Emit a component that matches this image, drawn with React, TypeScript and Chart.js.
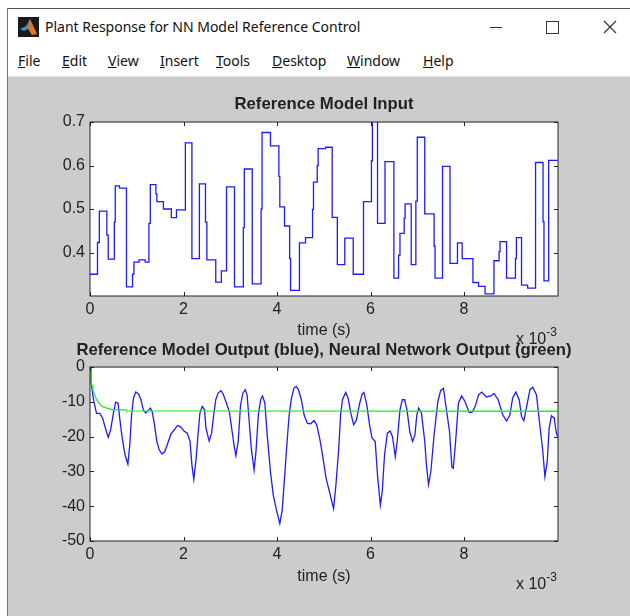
import React, { useEffect, useRef } from "react";
import { Chart, registerables } from "chart.js";

Chart.register(...registerables);

const windowTitle = "Plant Response for NN Model Reference Control";
const menuItems = ["File", "Edit", "View", "Insert", "Tools", "Desktop", "Window", "Help"];
const menuLefts = [18, 62, 108, 160, 216, 272, 347, 423];

const topTitle = "Reference Model Input";
const bottomTitle = "Reference Model Output (blue), Neural Network Output (green)";
const xAxisLabel = "time (s)";
const xTicks = [0, 2, 4, 6, 8];
const topYTicks = [0.4, 0.5, 0.6, 0.7];
const bottomYTicks = [0, -10, -20, -30, -40, -50];

const inputTimes = [
  0, 0.16, 0.2, 0.36, 0.39, 0.52, 0.54, 0.63, 0.78, 0.91, 0.94, 1.05, 1.18, 1.26, 1.29, 1.41, 1.43, 1.57, 1.74, 1.85,
  2.04, 2.18, 2.34, 2.47, 2.5, 2.69, 2.81, 2.92, 3.09, 3.28, 3.3, 3.47, 3.66, 3.68, 3.86, 4.04, 4.06, 4.16, 4.27, 4.29,
  4.48, 4.61, 4.76, 4.78, 4.86, 4.88, 5.04, 5.18, 5.29, 5.45, 5.63, 5.85, 6.02, 6.04, 6.15, 6.31, 6.5, 6.6, 6.63, 6.72,
  6.74, 6.87, 6.97, 7.0, 7.16, 7.36, 7.38, 7.54, 7.7, 7.86, 7.96, 8.19, 8.31, 8.45, 8.64, 8.75, 8.77, 8.91, 9.1, 9.12,
  9.23, 9.36, 9.53, 9.69, 9.71, 9.81, 10.0,
];
const inputValues = [
  0.35, 0.423, 0.495, 0.44, 0.385, 0.47, 0.553, 0.548, 0.321, 0.35, 0.378, 0.383, 0.378, 0.467, 0.556, 0.535, 0.517, 0.5, 0.48, 0.498,
  0.652, 0.386, 0.558, 0.47, 0.383, 0.332, 0.358, 0.551, 0.321, 0.457, 0.592, 0.328, 0.5, 0.676, 0.645, 0.575, 0.505, 0.461, 0.386, 0.313,
  0.422, 0.434, 0.499, 0.562, 0.6, 0.639, 0.642, 0.481, 0.372, 0.433, 0.35, 0.517, 0.611, 0.71, 0.467, 0.609, 0.341, 0.394, 0.444, 0.479,
  0.512, 0.372, 0.518, 0.665, 0.489, 0.415, 0.341, 0.598, 0.375, 0.422, 0.386, 0.331, 0.322, 0.305, 0.381, 0.402, 0.425, 0.341, 0.386, 0.434,
  0.325, 0.318, 0.607, 0.471, 0.335, 0.612, 0.612,
];

const outputTimes = [
  0, 0.02, 0.06, 0.09, 0.14, 0.21, 0.27, 0.33, 0.39, 0.44, 0.5, 0.55, 0.6, 0.64, 0.69, 0.75, 0.81, 0.85, 0.89, 0.93,
  0.98, 1.04, 1.09, 1.14, 1.19, 1.24, 1.29, 1.33, 1.38, 1.43, 1.48, 1.54, 1.6, 1.65, 1.73, 1.8, 1.87, 1.94, 2.01, 2.08,
  2.14, 2.18, 2.22, 2.27, 2.31, 2.35, 2.4, 2.45, 2.48, 2.55, 2.6, 2.65, 2.69, 2.74, 2.8, 2.85, 2.92, 2.98, 3.03, 3.08,
  3.12, 3.17, 3.22, 3.27, 3.32, 3.36, 3.4, 3.45, 3.51, 3.55, 3.6, 3.65, 3.69, 3.74, 3.79, 3.86, 3.92, 3.99, 4.06, 4.11,
  4.16, 4.21, 4.26, 4.31, 4.36, 4.41, 4.46, 4.52, 4.58, 4.65, 4.72, 4.79, 4.85, 4.92, 4.98, 5.05, 5.13, 5.21, 5.26, 5.32,
  5.36, 5.4, 5.47, 5.52, 5.58, 5.64, 5.7, 5.76, 5.82, 5.86, 5.92, 5.98, 6.03, 6.1, 6.15, 6.21, 6.25, 6.3, 6.36, 6.42,
  6.47, 6.53, 6.57, 6.63, 6.68, 6.73, 6.78, 6.84, 6.9, 6.95, 6.99, 7.03, 7.09, 7.16, 7.2, 7.24, 7.29, 7.36, 7.44, 7.5,
  7.56, 7.61, 7.69, 7.74, 7.77, 7.82, 7.88, 7.95, 8.02, 8.11, 8.17, 8.24, 8.31, 8.38, 8.48, 8.57, 8.64, 8.73, 8.83, 8.91,
  8.98, 9.04, 9.11, 9.18, 9.23, 9.28, 9.34, 9.41, 9.47, 9.55, 9.62, 9.68, 9.73, 9.78, 9.82, 9.87, 9.93, 9.97, 10.0,
];
const outputValues = [
  0, -4.1, -8.0, -10.4, -13.3, -13.3, -14.7, -17.6, -20.2, -18.1, -13.3, -10.1, -10.4, -15.2, -20.5, -25.3, -27.9, -22.4, -13.8, -8.9,
  -7.2, -7.8, -9.4, -12.3, -13.2, -12.6, -11.8, -12.8, -16.6, -21.4, -23.8, -25.0, -24.3, -22.4, -19.3, -18.1, -16.8, -17.2, -18.4, -19.0,
  -21.4, -28.2, -32.3, -26.3, -19.5, -13.3, -11.3, -12.3, -17.6, -21.3, -19.0, -13.3, -9.4, -7.5, -6.8, -7.8, -10.4, -12.8, -17.6, -22.4,
  -25.5, -21.4, -10.9, -7.5, -6.5, -8.0, -14.7, -23.4, -29.6, -24.3, -13.8, -9.4, -8.3, -10.4, -19.5, -30.1, -36.8, -41.2, -45.0, -41.2,
  -32.0, -22.4, -13.8, -8.9, -6.1, -5.6, -6.5, -9.4, -13.8, -16.2, -16.3, -15.4, -16.6, -21.0, -25.8, -32.0, -36.3, -40.7, -33.9, -23.4,
  -13.8, -9.4, -7.3, -8.9, -13.3, -16.6, -15.2, -10.9, -7.8, -7.3, -10.9, -16.6, -20.3, -21.4, -31.1, -39.7, -35.9, -25.3, -19.0, -18.4,
  -20.0, -25.8, -21.4, -12.3, -9.4, -9.4, -12.3, -18.6, -21.4, -19.5, -13.8, -11.8, -13.3, -21.4, -28.7, -33.8, -30.1, -19.5, -9.9, -6.8,
  -6.1, -10.9, -18.6, -28.7, -29.1, -21.4, -10.4, -8.3, -9.9, -13.0, -13.0, -11.3, -8.0, -7.2, -8.6, -8.3, -7.6, -9.4, -13.8, -15.5,
  -13.8, -8.9, -7.2, -9.4, -14.2, -15.4, -11.3, -6.5, -5.8, -8.0, -16.6, -23.4, -31.5, -27.2, -17.6, -14.0, -14.7, -18.6, -20.0,
];

const nnTimes = [0, 0.01, 0.07, 0.14, 0.25, 0.36, 0.46, 0.77, 0.78, 10.0];
const nnValues = [-1, -3, -7, -9.4, -11.3, -11.8, -12.2, -12.3, -12.6, -12.7];

const INK = "#222222";
const BLUE = "#1c1cff";
const GREEN = "#22f022";
const SANS = "'Liberation Sans', Arial, sans-serif";
const UI = "'Noto Sans', sans-serif";

const pairs = (xs: number[], ys: number[]) => xs.map((x, i) => ({ x, y: ys[i] }));

const matlabFrame = {
  id: "matlabFrame",
  beforeDraw(chart: any) {
    const { ctx, chartArea: a } = chart;
    ctx.save();
    ctx.fillStyle = "#ffffff";
    ctx.fillRect(a.left, a.top, a.right - a.left, a.bottom - a.top);
    ctx.restore();
  },
  afterDraw(chart: any) {
    const { ctx, chartArea: a, scales } = chart;
    ctx.save();
    ctx.strokeStyle = INK;
    ctx.lineWidth = 1;
    ctx.strokeRect(a.left, a.top, a.right - a.left, a.bottom - a.top);
    ctx.beginPath();
    scales.x.ticks.forEach((_: any, i: number) => {
      const p = Math.round(scales.x.getPixelForTick(i)) + 0.5;
      ctx.moveTo(p, a.bottom);
      ctx.lineTo(p, a.bottom - 4);
      ctx.moveTo(p, a.top);
      ctx.lineTo(p, a.top + 4);
    });
    scales.y.ticks.forEach((_: any, i: number) => {
      const p = Math.round(scales.y.getPixelForTick(i)) + 0.5;
      ctx.moveTo(a.left, p);
      ctx.lineTo(a.left + 4, p);
      ctx.moveTo(a.right, p);
      ctx.lineTo(a.right - 4, p);
    });
    ctx.stroke();
    ctx.restore();
  },
};

function makeOptions(title: string, yMin: number, yMax: number, yTicks: number[], titleGap: number, xHeight: number, xTitleGap: number): any {
  return {
    responsive: false,
    animation: false,
    layout: { padding: 0 },
    plugins: {
      legend: { display: false },
      tooltip: { enabled: false },
      title: {
        display: true,
        text: title,
        color: INK,
        font: { family: SANS, size: 16.7, weight: "bold", lineHeight: 1.2 },
        padding: { top: 1, bottom: titleGap },
      },
    },
    elements: { point: { radius: 0 } },
    scales: {
      x: {
        type: "linear",
        min: 0,
        max: 10.01,
        afterBuildTicks(scale: any) {
          scale.ticks = xTicks.map((value) => ({ value }));
        },
        afterFit(scale: any) {
          scale.height = xHeight;
        },
        grid: { display: false, drawTicks: false },
        border: { display: false },
        ticks: { color: INK, font: { family: SANS, size: 16 }, padding: 4, maxRotation: 0, autoSkip: false, callback: (v: number) => String(v) },
        title: { display: true, text: xAxisLabel, color: INK, font: { family: SANS, size: 16 }, padding: { top: 0, bottom: xTitleGap } },
      },
      y: {
        type: "linear",
        min: yMin,
        max: yMax,
        afterBuildTicks(scale: any) {
          scale.ticks = yTicks.map((value) => ({ value }));
        },
        afterFit(scale: any) {
          scale.width = 72;
        },
        grid: { display: false, drawTicks: false },
        border: { display: false },
        ticks: { color: INK, font: { family: SANS, size: 16 }, padding: 5, autoSkip: false, callback: (v: number) => String(v) },
      },
      yRight: {
        type: "linear",
        position: "right",
        min: yMin,
        max: yMax,
        afterFit(scale: any) {
          scale.width = 72;
        },
        grid: { display: false, drawTicks: false },
        border: { display: false },
        ticks: { display: false },
      },
    },
  };
}

function Plot({ top, height, config }: { top: number; height: number; config: any }) {
  const ref = useRef<HTMLCanvasElement>(null);
  useEffect(() => {
    const chart = new Chart(ref.current as HTMLCanvasElement, { ...config, plugins: [matlabFrame] });
    return () => chart.destroy();
  }, []);
  return <canvas ref={ref} width={612} height={height} style={{ position: "absolute", left: 18, top, width: 612, height }} />;
}

const topConfig = {
  type: "line",
  data: {
    datasets: [
      { data: pairs(inputTimes, inputValues), borderColor: BLUE, borderWidth: 1.3, stepped: true, fill: false },
    ],
  },
  options: makeOptions(topTitle, 0.3, 0.7, topYTicks, 8, 44, 0),
};

const bottomConfig = {
  type: "line",
  data: {
    datasets: [
      { data: pairs(nnTimes, nnValues), borderColor: GREEN, borderWidth: 1.3, fill: false, order: 1 },
      { data: pairs(outputTimes, outputValues), borderColor: BLUE, borderWidth: 1.3, fill: false, order: 2 },
    ],
  },
  options: makeOptions(bottomTitle, -50, 0, bottomYTicks, 7, 46, 1),
};

function Exponent({ top }: { top: number }) {
  return (
    <div style={{ position: "absolute", left: 516, top, font: `16px ${SANS}`, color: INK, whiteSpace: "nowrap", lineHeight: "18px" }}>
      x 10<span style={{ fontSize: 12, position: "relative", top: -8 }}>-3</span>
    </div>
  );
}

function Icon() {
  return (
    <svg width="21" height="20" viewBox="0 0 21 20" style={{ position: "absolute", left: 18, top: 17 }}>
      <rect width="21" height="20" fill="#1a1a1a" />
      <polygon points="2,12 8,9 12,2 17,15 14,18 10,12 6,14" fill="#3f8fc4" />
      <polygon points="12,2 19,17 14,18 10,11" fill="#e8761c" />
    </svg>
  );
}

export default function App() {
  return (
    <div style={{ position: "absolute", left: 0, top: 0, width: 630, height: 616, overflow: "hidden", background: "#ffffff", filter: "blur(0.3px)" }}>
      <div style={{ position: "absolute", left: 7, top: 8, width: 623, height: 1, background: "#555555" }} />
      <div style={{ position: "absolute", left: 7, top: 8, width: 1, height: 608, background: "#777777" }} />
      <Icon />
      <div style={{ position: "absolute", left: 45, top: 17, font: `14px ${UI}`, lineHeight: "20px", color: "#111111", whiteSpace: "nowrap" }}>{windowTitle}</div>
      <div style={{ position: "absolute", left: 490, top: 27, width: 12, height: 1, background: "#333333" }} />
      <div style={{ position: "absolute", left: 546, top: 21, width: 11, height: 11, border: "1px solid #333333" }} />
      <svg width="14" height="14" style={{ position: "absolute", left: 603, top: 20 }}>
        <path d="M1 1 L13 13 M13 1 L1 13" stroke="#333333" strokeWidth="1.2" />
      </svg>
      {menuItems.map((item, i) => (
        <div key={item} style={{ position: "absolute", left: menuLefts[i], top: 51, font: `14px ${UI}`, lineHeight: "20px", color: "#111111", whiteSpace: "nowrap" }}>
          <u>{item[0]}</u>
          {item.slice(1)}
        </div>
      ))}
      <div style={{ position: "absolute", left: 8, top: 76, width: 622, height: 540, background: "#cccccc", borderTop: "1px solid #e6e6e6" }} />
      <Plot top={93} height={247} config={topConfig} />
      <Plot top={339} height={248} config={bottomConfig} />
      <Exponent top={330} />
      <Exponent top={575} />
    </div>
  );
}
